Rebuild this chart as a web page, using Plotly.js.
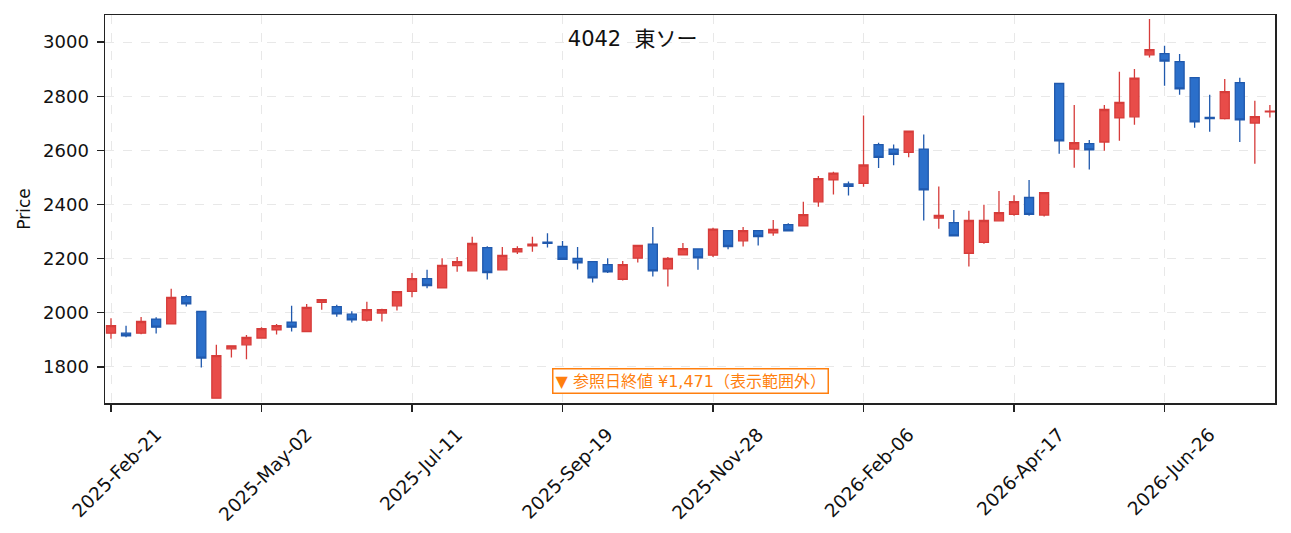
<!DOCTYPE html>
<html>
<head>
<meta charset="utf-8">
<script src="https://cdn.plot.ly/plotly-3.0.1.min.js"></script>
<style>
  html, body { margin: 0; padding: 0; background: #fff; }
  #chart { width: 1291px; height: 533px; }
</style>
</head>
<body>
<div id="chart"></div>
<script>
// weekly bars, 4042 東ソー
const dates = [
  '2025-02-21', '2025-02-28', '2025-03-07', '2025-03-14', '2025-03-21', '2025-03-28',
  '2025-04-04', '2025-04-11', '2025-04-18', '2025-04-25', '2025-05-02', '2025-05-09',
  '2025-05-16', '2025-05-23', '2025-05-30', '2025-06-06', '2025-06-13', '2025-06-20',
  '2025-06-27', '2025-07-04', '2025-07-11', '2025-07-18', '2025-07-25', '2025-08-01',
  '2025-08-08', '2025-08-15', '2025-08-22', '2025-08-29', '2025-09-05', '2025-09-12',
  '2025-09-19', '2025-09-26', '2025-10-03', '2025-10-10', '2025-10-17', '2025-10-24',
  '2025-10-31', '2025-11-07', '2025-11-14', '2025-11-21', '2025-11-28', '2025-12-05',
  '2025-12-12', '2025-12-19', '2025-12-26', '2026-01-02', '2026-01-09', '2026-01-16',
  '2026-01-23', '2026-01-30', '2026-02-06', '2026-02-13', '2026-02-20', '2026-02-27',
  '2026-03-06', '2026-03-13', '2026-03-20', '2026-03-27', '2026-04-03', '2026-04-10',
  '2026-04-17', '2026-04-24', '2026-05-01', '2026-05-08', '2026-05-15', '2026-05-22',
  '2026-05-29', '2026-06-05', '2026-06-12', '2026-06-19', '2026-06-26', '2026-07-03',
  '2026-07-10', '2026-07-17', '2026-07-24', '2026-07-31', '2026-08-07', '2026-08-14'
];

const opens = [
  1925, 1925, 1925, 1977, 1959, 2060, 2005, 1685, 1867, 1882,
  1907, 1937, 1966, 1931, 2039, 2023, 1995, 1973, 1999, 2026,
  2079, 2126, 2092, 2174, 2155, 2241, 2159, 2225, 2247, 2261,
  2245, 2201, 2189, 2178, 2124, 2202, 2254, 2162, 2214, 2236,
  2213, 2304, 2266, 2304, 2295, 2326, 2321, 2410, 2491, 2476,
  2478, 2621, 2605, 2593, 2605, 2350, 2333, 2220, 2260, 2340,
  2364, 2426, 2361, 2847, 2605, 2625, 2631, 2720, 2724, 2953,
  2957, 2928, 2869, 2722, 2717, 2850, 2701, 2742
];
const highs = [
  1980, 1952, 1985, 1984, 2089, 2066, 2005, 1882, 1880, 1918,
  1947, 1959, 2026, 2033, 2051, 2030, 2006, 2041, 2015, 2080,
  2147, 2159, 2202, 2206, 2281, 2246, 2243, 2246, 2281, 2294,
  2265, 2243, 2190, 2202, 2191, 2250, 2317, 2206, 2258, 2237,
  2314, 2305, 2317, 2305, 2343, 2331, 2410, 2505, 2521, 2485,
  2729, 2628, 2622, 2672, 2659, 2467, 2380, 2377, 2399, 2450,
  2434, 2491, 2446, 2847, 2768, 2638, 2768, 2890, 2901, 3085,
  2986, 2956, 2870, 2805, 2864, 2868, 2783, 2768
];
const lows = [
  1904, 1910, 1921, 1924, 1958, 2023, 1798, 1685, 1835, 1829,
  1906, 1920, 1931, 1929, 2011, 1986, 1964, 1968, 1968, 2009,
  2058, 2091, 2091, 2152, 2155, 2123, 2158, 2217, 2226, 2241,
  2197, 2160, 2112, 2147, 2119, 2186, 2134, 2097, 2213, 2159,
  2206, 2235, 2245, 2249, 2285, 2302, 2320, 2392, 2437, 2433,
  2466, 2535, 2545, 2575, 2341, 2311, 2283, 2171, 2255, 2339,
  2359, 2359, 2356, 2588, 2536, 2529, 2599, 2636, 2695, 2943,
  2839, 2805, 2684, 2669, 2714, 2631, 2551, 2721
];
const closes = [
  1953, 1915, 1968, 1947, 2057, 2033, 1833, 1842, 1878, 1909,
  1942, 1953, 1947, 2020, 2049, 1996, 1974, 2012, 2012, 2078,
  2126, 2101, 2175, 2189, 2256, 2149, 2212, 2237, 2254, 2257,
  2198, 2185, 2129, 2151, 2178, 2249, 2155, 2201, 2237, 2203,
  2309, 2245, 2304, 2282, 2308, 2303, 2363, 2496, 2516, 2467,
  2546, 2574, 2585, 2671, 2454, 2360, 2284, 2341, 2341, 2370,
  2411, 2364, 2444, 2635, 2629, 2602, 2751, 2777, 2867, 2972,
  2930, 2827, 2705, 2717, 2817, 2713, 2725, 2745
];

const tickDates = ['2025-02-21', '2025-05-02', '2025-07-11', '2025-09-19',
                   '2025-11-28', '2026-02-06', '2026-04-17', '2026-06-26'];
const tickLabels = ['2025-Feb-21', '2025-May-02', '2025-Jul-11', '2025-Sep-19',
                    '2025-Nov-28', '2026-Feb-06', '2026-Apr-17', '2026-Jun-26'];

const titleText = '4042\u00a0 東ソー';
const noteText = '▼ 参照日終値 ¥1,471（表示範囲外）';

const font = 'DejaVu Sans, Noto Sans CJK JP, sans-serif';
const frame = '#222222';
const orange = '#ff7f0e';

const trace = {
  type: 'candlestick',
  x: dates,
  open: opens,
  high: highs,
  low: lows,
  close: closes,
  increasing: { line: { color: '#d63c3a', width: 1.3 }, fillcolor: '#e84c49' },
  decreasing: { line: { color: '#2059ad', width: 1.3 }, fillcolor: '#2b6fca' },
  whiskerwidth: 0,
  hoverinfo: 'skip'
};

const layout = {
  width: 1291,
  height: 533,
  margin: { l: 105, r: 16, t: 15, b: 130 },
  paper_bgcolor: '#ffffff',
  plot_bgcolor: '#ffffff',
  showlegend: false,
  boxgap: 0.4,
  boxgroupgap: 0,
  font: { family: font, color: '#111111', size: 17 },
  title: {
    text: titleText,
    font: { family: font, size: 21, color: '#111111' },
    xref: 'paper', x: 0.451, xanchor: 'center',
    yref: 'paper', y: 0.938, yanchor: 'middle'
  },
  xaxis: {
    type: 'date',
    range: ['2025-02-18 05:00', '2026-08-16 09:00'],
    rangeslider: { visible: false },
    tickvals: tickDates,
    ticktext: tickLabels,
    tickangle: -45,
    ticklabelshift: 45,
    ticklabelstandoff: 5,
    tickfont: { family: font, size: 18.5, color: '#111111' },
    ticks: 'outside',
    ticklen: 7,
    tickwidth: 1.3,
    tickcolor: frame,
    showgrid: true,
    gridcolor: '#e8e8e8',
    gridwidth: 1,
    griddash: 'dash',
    showline: true,
    linecolor: frame,
    linewidth: 1.5,
    mirror: true,
    zeroline: false,
    fixedrange: true
  },
  yaxis: {
    range: [1667, 3100],
    tickvals: [1800, 2000, 2200, 2400, 2600, 2800, 3000],
    tickfont: { family: font, size: 18, color: '#111111' },
    ticks: 'outside',
    ticklen: 7,
    tickwidth: 1.3,
    tickcolor: frame,
    ticklabelstandoff: 4,
    showgrid: true,
    gridcolor: '#e8e8e8',
    gridwidth: 1,
    griddash: 'dash',
    showline: true,
    linecolor: frame,
    linewidth: 1.5,
    mirror: true,
    zeroline: false,
    fixedrange: true,
    title: { text: 'Price', font: { family: font, size: 17, color: '#111111' }, standoff: 8 }
  },
  annotations: [
    {
      xref: 'paper', yref: 'paper',
      x: 0.5, y: 0.024,
      xanchor: 'center', yanchor: 'bottom',
      text: noteText,
      showarrow: false,
      font: { family: font, size: 16, color: orange },
      bgcolor: '#ffffff',
      bordercolor: orange,
      borderwidth: 1.5,
      borderpad: 2
    }
  ]
};

Plotly.newPlot('chart', [trace], layout, { displayModeBar: false, staticPlot: true });
</script>
</body>
</html>
